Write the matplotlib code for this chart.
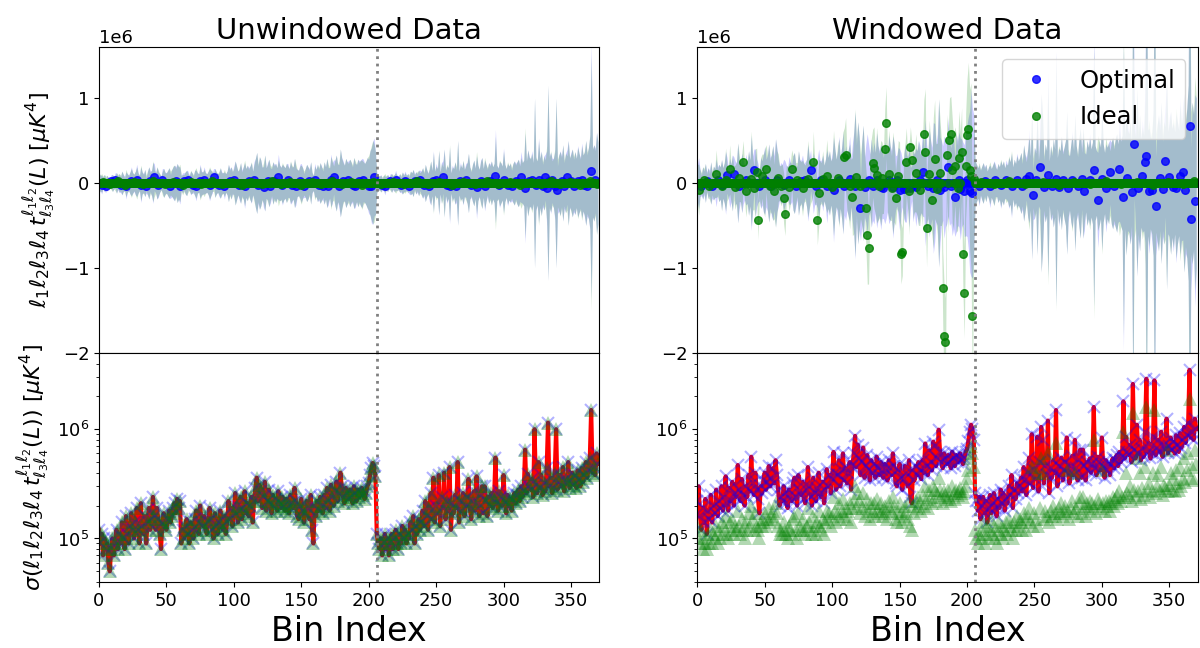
import numpy as np
import matplotlib.pyplot as plt

# Bin index axis
n_bins = 371
split_bin = 206

# sigma of the binned trispectrum, units of 1e4 muK^4
sig_unw = [
    12, 9, 11, 7, 10, 8, 9, 6, 5, 8,
    10, 7, 9, 12, 8, 11, 9, 14, 10, 8,
    16, 11, 9, 13, 17, 12, 10, 14, 19, 12,
    9, 21, 13, 11, 16, 9, 14, 19, 12, 15,
    24, 16, 12, 19, 15, 11, 8, 14, 17, 13,
    12, 15, 18, 14, 16, 19, 21, 17, 23, 19,
    22, 9, 12, 10, 13, 15, 11, 9, 14, 12,
    10, 15, 18, 12, 11, 20, 14, 13, 16, 12,
    11, 14, 19, 15, 12, 10, 17, 13, 11, 14,
    18, 13, 12, 16, 11, 14, 22, 15, 19, 13,
    17, 26, 20, 14, 18, 24, 15, 19, 27, 17,
    21, 16, 20, 24, 14, 22, 29, 36, 22, 31,
    27, 19, 24, 33, 18, 22, 28, 21, 17, 25,
    20, 23, 18, 27, 21, 19, 24, 20, 18, 23,
    20, 17, 25, 21, 19, 29, 22, 16, 15, 20,
    23, 18, 14, 17, 22, 19, 15, 25, 12, 9,
    20, 16, 22, 18, 24, 20, 17, 25, 19, 29,
    22, 18, 31, 24, 20, 27, 33, 22, 26, 40,
    30, 24, 21, 29, 25, 23, 28, 24, 21, 30,
    26, 22, 28, 24, 27, 29, 25, 23, 26, 30,
    32, 38, 44, 49, 46, 37, 11, 9, 8, 10,
    7, 9, 11, 8, 10, 7, 9, 11, 8, 10,
    12, 9, 8, 11, 9, 13, 10, 12, 9, 11,
    10, 14, 12, 16, 9, 13, 11, 15, 12, 14,
    18, 13, 22, 16, 12, 19, 26, 15, 36, 14,
    20, 17, 38, 13, 24, 19, 40, 15, 22, 18,
    45, 12, 21, 17, 25, 19, 50, 14, 22, 18,
    26, 16, 20, 24, 35, 19, 15, 22, 27, 18,
    37, 21, 16, 25, 30, 17, 30, 22, 16, 24,
    20, 26, 19, 23, 55, 21, 18, 27, 24, 20,
    38, 22, 17, 25, 20, 23, 18, 23, 26, 21,
    25, 28, 22, 30, 24, 27, 65, 26, 39, 30,
    28, 35, 24, 100, 31, 26, 50, 29, 38, 25,
    32, 27, 44, 115, 30, 36, 26, 29, 40, 100,
    28, 33, 38, 30, 45, 27, 35, 32, 50, 29,
    34, 40, 31, 37, 29, 42, 35, 30, 44, 33,
    38, 50, 36, 42, 55, 150, 40, 45, 38, 60, 48,
]

sig_win_opt = [
    22, 30, 16, 12, 19, 14, 23, 11, 18, 15,
    25, 14, 20, 17, 28, 16, 22, 19, 30, 18,
    24, 37, 21, 18, 29, 22, 33, 20, 26, 24,
    47, 28, 22, 35, 25, 20, 30, 24, 38, 27,
    56, 32, 25, 40, 28, 23, 17, 30, 26, 34,
    40, 28, 33, 46, 30, 36, 44, 32, 52, 38,
    28, 20, 24, 22, 30, 26, 21, 19, 28, 25,
    22, 32, 36, 24, 20, 38, 27, 25, 33, 23,
    21, 28, 45, 30, 24, 20, 36, 26, 22, 29,
    40, 26, 24, 33, 21, 28, 43, 30, 38, 26,
    35, 62, 40, 28, 38, 52, 30, 42, 60, 34,
    44, 32, 40, 50, 28, 46, 60, 87, 45, 72,
    55, 38, 50, 68, 36, 46, 58, 42, 34, 52,
    40, 48, 36, 56, 44, 38, 50, 42, 36, 48,
    42, 34, 52, 44, 38, 60, 46, 32, 30, 42,
    48, 36, 28, 35, 46, 40, 30, 52, 24, 21,
    42, 34, 46, 38, 50, 42, 35, 52, 40, 74,
    46, 38, 64, 50, 42, 77, 70, 46, 54, 99,
    62, 50, 44, 60, 52, 48, 58, 50, 44, 62,
    54, 46, 58, 50, 56, 60, 52, 48, 54, 62,
    66, 78, 95, 110, 100, 80, 26, 22, 18, 24,
    15, 20, 24, 17, 22, 14, 19, 25, 17, 21,
    26, 19, 16, 23, 19, 28, 21, 26, 18, 23,
    21, 30, 25, 38, 19, 28, 23, 32, 26, 30,
    36, 27, 45, 34, 25, 40, 55, 32, 90, 29,
    42, 35, 85, 27, 50, 105, 80, 32, 46, 38,
    120, 26, 44, 36, 52, 40, 150, 30, 46, 38,
    55, 34, 42, 50, 84, 40, 32, 46, 57, 38,
    80, 44, 34, 52, 65, 36, 65, 46, 34, 50,
    42, 54, 40, 48, 160, 44, 38, 56, 50, 42,
    84, 46, 36, 52, 42, 48, 38, 48, 54, 44,
    52, 58, 46, 62, 50, 56, 180, 54, 85, 62,
    58, 72, 50, 260, 64, 54, 110, 60, 80, 52,
    66, 56, 95, 290, 62, 74, 54, 60, 85, 280,
    58, 68, 80, 62, 95, 56, 72, 66, 125, 60,
    70, 84, 64, 76, 60, 88, 72, 62, 92, 68,
    80, 105, 75, 88, 115, 350, 84, 95, 80, 125, 100,
]

sig_win_ideal = [
    13, 10, 9, 12, 8, 10, 9, 8, 11, 9,
    12, 9, 11, 10, 13, 9, 12, 10, 14, 11,
    13, 16, 11, 10, 14, 12, 15, 11, 13, 12,
    18, 13, 11, 15, 12, 10, 14, 12, 17, 13,
    20, 15, 12, 17, 13, 12, 10, 14, 13, 15,
    17, 13, 15, 19, 14, 16, 18, 15, 21, 17,
    13, 11, 12, 11, 14, 12, 11, 10, 13, 12,
    11, 15, 16, 12, 10, 17, 13, 12, 15, 12,
    11, 13, 19, 14, 12, 11, 16, 13, 11, 14,
    18, 13, 12, 15, 11, 14, 18, 15, 17, 13,
    16, 24, 18, 14, 17, 21, 15, 18, 23, 16,
    19, 15, 18, 21, 14, 19, 23, 30, 19, 26,
    22, 17, 20, 26, 16, 19, 23, 18, 15, 21,
    18, 21, 16, 23, 19, 17, 21, 18, 16, 20,
    18, 15, 22, 19, 17, 24, 20, 15, 14, 18,
    21, 17, 14, 16, 20, 18, 15, 22, 13, 12,
    20, 17, 22, 19, 24, 21, 18, 25, 20, 30,
    23, 19, 28, 24, 21, 30, 28, 22, 26, 36,
    28, 24, 21, 27, 25, 23, 28, 24, 22, 30,
    26, 23, 28, 25, 27, 29, 26, 24, 27, 30,
    36, 42, 55, 70, 60, 45, 12, 10, 9, 11,
    10, 12, 14, 9, 11, 13, 10, 12, 15, 11,
    13, 10, 9, 12, 14, 11, 13, 10, 12, 14,
    11, 15, 13, 12, 10, 14, 12, 16, 13, 15,
    14, 12, 17, 15, 12, 16, 19, 14, 45, 13,
    17, 15, 40, 13, 19, 55, 40, 15, 18, 16,
    60, 14, 18, 16, 20, 17, 75, 15, 19, 17,
    21, 16, 18, 20, 42, 18, 15, 19, 22, 17,
    40, 19, 16, 21, 24, 17, 24, 20, 16, 21,
    19, 22, 18, 21, 80, 20, 17, 23, 21, 19,
    42, 21, 18, 22, 20, 22, 18, 21, 24, 20,
    23, 25, 21, 27, 22, 24, 95, 24, 40, 26,
    25, 30, 22, 140, 28, 24, 55, 27, 40, 23,
    29, 25, 45, 160, 28, 32, 24, 27, 40, 150,
    26, 30, 38, 28, 45, 25, 31, 29, 65, 27,
    31, 40, 28, 35, 27, 42, 32, 28, 45, 30,
    35, 55, 33, 42, 60, 190, 36, 45, 34, 65, 48,
]

# estimates (upper panels), units of 1e4; bins not listed read as ~0
est_unw_opt = {
    2: -2, 5: -3, 9: 2, 12: 3, 16: -2, 20: -3, 24: 2, 28: 3, 31: -2, 35: -3,
    38: 2, 41: 7, 44: -2, 47: 3, 53: -4, 57: 2, 60: -3, 63: 2, 66: 3, 70: -2,
    72: -3, 75: 2, 78: 3, 82: -2, 85: 7, 89: -2, 93: -3, 97: 2, 100: 3, 104: -2,
    108: -3, 111: 2, 115: 3, 118: -2, 122: -5, 125: 2, 127: -3, 130: 2, 133: 7,
    136: -2, 140: 3, 143: -2, 146: -4, 149: 2, 152: -3, 156: 2, 160: 3, 163: -2,
    166: -3, 170: -4, 172: 3, 174: 7, 178: -4, 181: 2, 185: 3, 188: -2, 190: -3,
    193: 2, 196: 3, 200: -4, 202: -3, 204: 7,
    210: -2, 212: -3, 216: 2, 220: 3, 224: -2, 227: 2, 230: -3, 234: 2, 238: 3,
    241: -2, 245: -3, 248: 2, 250: 3, 255: 7, 258: -2, 260: -3, 265: -4, 268: 2,
    272: 3, 276: -2, 280: -5, 283: 2, 286: -3, 290: 2, 294: 8, 297: -2, 300: 3,
    303: -2, 306: -3, 309: 2, 313: 7, 316: -6, 319: 2, 321: 3, 324: -2, 326: 3,
    329: -3, 331: 7, 332: -6, 334: 2, 336: 3, 338: -3, 340: -8, 343: 2, 345: -3,
    347: 7, 350: 2, 352: -3, 355: 2, 358: 3, 360: -2, 362: -3, 365: 14, 368: 3,
}

est_unw_ideal = {
    3: 1, 8: -1, 14: 2, 19: -2, 26: 1, 33: -1, 40: 2, 49: -1, 55: 1, 62: -2,
    68: 1, 76: -1, 84: 2, 91: -1, 99: 1, 106: -2, 113: 1, 121: -1, 128: 2,
    135: -1, 142: 1, 150: -2, 158: 1, 165: -1, 173: 2, 180: -1, 187: 1, 195: -2,
    203: 1, 209: -1, 218: 1, 226: -1, 236: 2, 244: -1, 252: 1, 262: -2, 270: 1,
    279: -1, 288: 2, 296: -1, 305: 1, 312: -2, 320: 1, 328: -1, 335: 2, 342: -1,
    349: 1, 357: -2, 364: 2, 369: -1,
}

est_win_opt = {
    3: -3, 7: 2, 11: -4, 15: 3, 18: -2, 22: 9, 27: 11, 31: -3, 36: 4, 42: 15,
    46: -4, 50: 3, 55: -3, 59: 4, 64: -2, 68: 3, 73: -4, 77: 2, 80: 4, 84: 15,
    88: -3, 92: 3, 96: -4, 101: -8, 105: 3, 109: -4, 113: 5, 117: -3, 121: -30,
    124: -5, 127: 4, 130: -4, 133: 3, 136: -5, 138: -6, 142: 4, 145: -5, 148: 3,
    150: -8, 153: -7, 155: -6, 158: -6, 160: -4, 162: -5, 165: 3, 167: 13,
    171: -4, 175: -6, 178: 4, 180: -8, 183: -5, 186: 19, 188: -3, 191: -17,
    194: 4, 195: -7, 198: -9, 200: 3, 202: -10, 204: -12,
    209: -3, 213: 2, 217: -4, 221: 3, 225: -2, 229: 4, 233: -3, 237: 3, 241: -4,
    244: 5, 246: 8, 249: -14, 251: 3, 254: 19, 257: -5, 260: 9, 263: -4, 266: 5,
    268: -5, 271: 3, 275: -6, 278: 4, 282: -3, 285: 5, 287: -10, 291: 4, 294: 15,
    297: -20, 300: 5, 303: -6, 306: 13, 309: -4, 313: 17, 316: -17, 319: 6,
    322: -11, 324: 46, 327: -6, 330: 8, 332: 25, 333: 32, 335: -9, 337: -8,
    340: -27, 343: 6, 345: -7, 347: 26, 350: 7, 353: -5, 355: -6, 358: 8,
    360: 13, 362: -8, 365: 67, 366: -42, 369: -21,
}

est_win_ideal = {
    1: -8, 5: 3, 9: -4, 14: 11, 18: -3, 21: 4, 24: 16, 28: -5, 31: 6, 34: 25,
    36: -10, 40: 5, 42: -6, 44: 13, 45: -44, 48: 8, 51: 17, 54: -4, 57: -10,
    60: 6, 62: -3, 64: -18, 65: -36, 68: -5, 70: 17, 74: 4, 78: -6, 82: 5,
    86: 25, 89: -44, 90: -12, 93: 5, 96: 8, 100: -5, 104: 6, 109: 31, 110: 33,
    113: -4, 115: -16, 118: 7, 121: -4, 125: -30, 126: -61, 127: -77, 130: 23,
    131: 18, 133: 9, 135: -3, 137: 6, 139: 40, 140: 71, 142: 10, 144: -6,
    147: -18, 149: 8, 151: -83, 152: -81, 155: 25, 157: -9, 158: 42, 159: 27,
    162: 12, 165: -8, 168: 58, 169: 37, 170: -53, 172: 10, 174: -20, 176: 28,
    178: -7, 180: 12, 182: -124, 183: -180, 184: -187, 185: 33, 187: 50,
    188: 58, 189: 15, 191: 20, 193: -6, 194: 29, 196: 37, 197: -83, 198: -129,
    199: 20, 200: 56, 201: 64, 202: 15, 203: 8, 204: -157, 205: 5,
    210: 1, 220: -1, 231: 2, 243: -1, 256: 1, 268: -2, 279: 1, 291: -1, 303: 2,
    314: -1, 326: 1, 338: -2, 349: 1, 360: -1, 368: 2,
}


def to_array(values):
    """ per-bin list or {bin: value} dict (1e4 units) -> array in muK^4 """
    arr = np.zeros(n_bins)
    if isinstance(values, dict):
        for b, v in values.items():
            arr[b] = v
    else:
        arr[:] = values
    return arr * 1e4


bins = np.arange(n_bins)
panels = [
    ('Unwindowed Data', sig_unw, sig_unw, est_unw_opt, est_unw_ideal),
    ('Windowed Data', sig_win_opt, sig_win_ideal, est_win_opt, est_win_ideal),
]

fig = plt.figure(figsize=(12, 6.48), dpi=100)
gs = fig.add_gridspec(2, 2, height_ratios=[306, 229], left=0.0825, right=0.998,
                      top=0.9275, bottom=0.102, wspace=0.196, hspace=0)

for col, (title, s_opt, s_ideal, e_opt, e_ideal) in enumerate(panels):
    s_opt = to_array(s_opt)
    s_ideal = to_array(s_ideal)
    e_opt = to_array(e_opt)
    e_ideal = to_array(e_ideal)

    ax_t = fig.add_subplot(gs[0, col])
    ax_b = fig.add_subplot(gs[1, col], sharex=ax_t)

    # upper: estimates, each with a +-sigma band (same sigma, own centre)
    ax_t.fill_between(bins, e_opt - s_opt, e_opt + s_opt, color='blue', alpha=0.2, lw=0)
    ax_t.fill_between(bins, e_ideal - s_opt, e_ideal + s_opt, color='green', alpha=0.2, lw=0)
    ax_t.plot(bins, e_opt, 'o', color='blue', alpha=0.8, ms=5.5, label='Optimal')
    ax_t.plot(bins, e_ideal, 'o', color='green', alpha=0.8, ms=5.5, label='Ideal')
    ax_t.axvline(split_bin, color='gray', ls=':', lw=2)
    ax_t.set_ylim(-2e6, 1.6e6)
    ax_t.set_yticks([-2e6, -1e6, 0, 1e6])
    ax_t.set_title(title, fontsize=21)
    ax_t.tick_params(labelbottom=False, labelsize=13)
    ax_t.yaxis.get_offset_text().set_fontsize(13)

    # lower: sigma on a log scale
    ax_b.plot(bins, s_opt, color='red', lw=3)
    ax_b.plot(bins, s_opt, 'x', color='blue', alpha=0.3, ms=9, mew=1.5)
    ax_b.plot(bins, s_ideal, '^', color='green', alpha=0.3, ms=9.5, mew=0)
    ax_b.axvline(split_bin, color='gray', ls=':', lw=2)
    ax_b.set_yscale('log')
    ax_b.set_ylim(4e4, 5e6)
    ax_b.set_xlim(0, 371)
    ax_b.set_xticks([0, 50, 100, 150, 200, 250, 300, 350])
    ax_b.tick_params(labelsize=13)
    ax_b.set_xlabel('Bin Index', fontsize=24)

    if col == 0:
        ax_t.set_ylabel(r'$\ell_1\ell_2\ell_3\ell_4\,t^{\ell_1\ell_2}_{\ell_3\ell_4}(L)$ $[\mu K^4]$',
                        fontsize=16)
        ax_b.set_ylabel(r'$\sigma(\ell_1\ell_2\ell_3\ell_4\,t^{\ell_1\ell_2}_{\ell_3\ell_4}(L))$ $[\mu K^4]$',
                        fontsize=16)
    else:
        ax_t.legend(loc='upper right', fontsize=17.5)

fig.savefig('out.png', dpi=100)
